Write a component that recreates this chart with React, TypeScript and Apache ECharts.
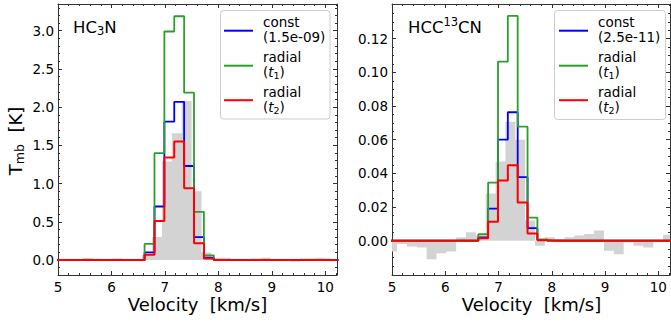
import React, { useEffect, useRef } from 'react';
import * as echarts from 'echarts';

const FONT = '"DejaVu Sans", "Liberation Sans", sans-serif';

// channel edges (km/s): left edge of every channel plus the last right edge
const modelEdges = [4.955, 5.14, 5.325, 5.51, 5.695, 5.88, 6.065, 6.25, 6.435, 6.62, 6.805, 6.99, 7.175, 7.36, 7.545, 7.73, 7.915, 8.1, 8.285, 8.47, 8.655, 8.84, 9.025, 9.21, 9.395, 9.58, 9.765, 9.95, 10.135, 10.32];
const obsEdges = [4.91, 5.095, 5.28, 5.465, 5.65, 5.835, 6.02, 6.205, 6.39, 6.575, 6.76, 6.945, 7.13, 7.315, 7.5, 7.685, 7.87, 8.055, 8.24, 8.425, 8.61, 8.795, 8.98, 9.165, 9.35, 9.535, 9.72, 9.905, 10.09, 10.275];

// HC3N (K)
const hc3nObs = [-0.01, 0.0, 0.01, 0.025, 0.015, -0.01, 0.02, 0.0, -0.01, 0.07, 0.3, 1.29, 1.66, 2.08, 0.9, 0.1, 0.03, 0.025, -0.01, 0.01, 0.02, 0.03, -0.01, 0.0, -0.02, 0.02, 0.025, 0.02, -0.01];
const hc3nConst = [0, 0, 0, 0, 0, 0, 0, 0, 0, 0.1, 0.7, 1.81, 2.07, 1.23, 0.3, 0.03, 0, 0, 0, 0, 0, 0, 0, 0, 0, 0, 0, 0, 0];
const hc3nT1 = [0, 0, 0, 0, 0, 0, 0, 0, 0, 0.21, 1.4, 2.99, 3.19, 2.19, 0.63, 0.06, 0, 0, 0, 0, 0, 0, 0, 0, 0, 0, 0, 0, 0];
const hc3nT2 = [0, 0, 0, 0, 0, 0, 0, 0, 0, 0.07, 0.51, 1.34, 1.55, 0.94, 0.22, 0.02, 0, 0, 0, 0, 0, 0, 0, 0, 0, 0, 0, 0, 0];

// HCC13CN (K)
const hcc13cnObs = [-0.0065, -0.002, -0.0035, -0.004, -0.011, -0.0075, -0.0065, 0.002, 0.005, 0.003, 0.028, 0.047, 0.0707, 0.06, 0.012, -0.003, 0.002, 0.001, 0.002, 0.003, 0.004, 0.006, -0.006, -0.008, -0.001, -0.003, -0.004, 0.0, 0.0035];
const hcc13cnConst = [0, 0, 0, 0, 0, 0, 0, 0, 0, 0.002, 0.019, 0.06, 0.0763, 0.0377, 0.0074, 0.0005, 0, 0, 0, 0, 0, 0, 0, 0, 0, 0, 0, 0, 0];
const hcc13cnT1 = [0, 0, 0, 0, 0, 0, 0, 0, 0, 0.0038, 0.0345, 0.1064, 0.1335, 0.0677, 0.0137, 0.0008, 0, 0, 0, 0, 0, 0, 0, 0, 0, 0, 0, 0, 0];
const hcc13cnT2 = [0, 0, 0, 0, 0, 0, 0, 0, 0, 0.0014, 0.0113, 0.0357, 0.0448, 0.0226, 0.0042, 0.0003, 0, 0, 0, 0, 0, 0, 0, 0, 0, 0, 0, 0, 0];

// ticks
const xTicks = [5, 6, 7, 8, 9, 10];
const hc3nYTicks = [0, 0.5, 1, 1.5, 2, 2.5, 3];
const hcc13cnYTicks = [0, 0.02, 0.04, 0.06, 0.08, 0.1, 0.12];

const X_MIN = 5;
const X_MAX = 10.22;
const HC3N_Y = [-0.196, 3.35];
const HCC13CN_Y = [-0.0204, 0.1406];

const COLORS = { obs: '#d3d3d3', constant: '#0000ff', t1: '#2ca02c', t2: '#ff0000' };
const SPINE = { color: '#333333', width: 1 };

function minorTicks(step: number, sub: number, lo: number, hi: number): number[] {
  const out: number[] = [];
  const m = step / sub;
  const s = Math.ceil(lo / m - 1e-9);
  const e = Math.floor(hi / m + 1e-9);
  for (let i = s; i <= e; i++) {
    if (i % sub === 0) continue;
    const v = +(i * m).toFixed(6);
    if (v > lo && v < hi) out.push(v);
  }
  return out;
}

function steps(edges: number[], values: number[]) {
  const pts = values.map((v, i) => [edges[i], v]);
  pts.push([edges[values.length], values[values.length - 1]]);
  return pts;
}

let measureCtx: CanvasRenderingContext2D | null = null;
function textWidth(t: string, size: number, italic?: boolean) {
  if (!measureCtx) measureCtx = document.createElement('canvas').getContext('2d');
  if (!measureCtx) return t.length * size * 0.6;
  measureCtx.font = `${italic ? 'italic ' : ''}${size}px "DejaVu Sans"`;
  return measureCtx.measureText(t).width;
}

type Part = { t: string; size: number; dy?: number; italic?: boolean };
function composite(parts: Part[], x0: number, yMid: number, center: boolean) {
  const widths = parts.map((p) => textWidth(p.t, p.size, p.italic));
  const total = widths.reduce((a, b) => a + b, 0);
  let x = center ? x0 - total / 2 : x0;
  return parts.map((p, i) => {
    const el = {
      type: 'text',
      x,
      y: yMid + (p.dy || 0),
      silent: true,
      style: {
        text: p.t,
        fontSize: p.size,
        fontFamily: FONT,
        fontStyle: p.italic ? 'italic' : 'normal',
        fill: '#000',
        align: 'left',
        verticalAlign: 'middle',
        textAlign: 'left',
        textVerticalAlign: 'middle',
      },
    };
    x += widths[i];
    return el;
  });
}

function legend(x: number, y: number, w: number, h: number, lineX: number, textX: number, first: string) {
  const fs = 13.5;
  const sub = 9.5;
  const els: any[] = [
    { type: 'rect', shape: { x, y, width: w, height: h, r: 3 }, style: { fill: 'rgba(255,255,255,0.8)', stroke: '#cccccc', lineWidth: 1 }, silent: true },
    { type: 'line', shape: { x1: lineX, y1: 30.7, x2: lineX + 29, y2: 30.7 }, style: { stroke: COLORS.constant, lineWidth: 2 } },
    { type: 'line', shape: { x1: lineX, y1: 65.7, x2: lineX + 29, y2: 65.7 }, style: { stroke: COLORS.t1, lineWidth: 2 } },
    { type: 'line', shape: { x1: lineX, y1: 100.2, x2: lineX + 29, y2: 100.2 }, style: { stroke: COLORS.t2, lineWidth: 2 } },
  ];
  els.push(...composite([{ t: 'const', size: fs }], textX, 21.7, false));
  els.push(...composite([{ t: first, size: fs }], textX, 37.3, false));
  els.push(...composite([{ t: 'radial', size: fs }], textX, 56.7, false));
  els.push(...composite([{ t: '(', size: fs }, { t: 't', size: fs, italic: true }, { t: '1', size: sub, dy: 3.5 }, { t: ')', size: fs }], textX, 71.7, false));
  els.push(...composite([{ t: 'radial', size: fs }], textX, 91.7, false));
  els.push(...composite([{ t: '(', size: fs }, { t: 't', size: fs, italic: true }, { t: '2', size: sub, dy: 3.5 }, { t: ')', size: fs }], textX, 106.7, false));
  return els;
}

function axesFor(gridIndex: number, yRange: number[], yTicks: number[], yStep: number, ySub: number, digits: number) {
  const xMinor = minorTicks(1, 5, X_MIN, X_MAX);
  const yMinor = minorTicks(yStep, ySub, yRange[0], yRange[1]);
  const labelStyle = { fontSize: 13.5, color: '#000', fontFamily: FONT };
  const xb = { type: 'value', gridIndex, min: X_MIN, max: X_MAX, splitLine: { show: false } };
  const yb = { type: 'value', gridIndex, min: yRange[0], max: yRange[1], splitLine: { show: false } };
  const x = [
    { ...xb, position: 'bottom', axisLine: { show: true, onZero: false, lineStyle: SPINE }, axisTick: { show: true, inside: true, length: 4, customValues: xTicks, lineStyle: SPINE }, axisLabel: { show: true, customValues: xTicks, margin: 5, ...labelStyle, formatter: (v: number) => String(v) } },
    { ...xb, position: 'bottom', axisLine: { show: false, onZero: false }, axisTick: { show: true, inside: true, length: 2, customValues: xMinor, lineStyle: SPINE }, axisLabel: { show: false } },
    { ...xb, position: 'top', axisLine: { show: true, onZero: false, lineStyle: SPINE }, axisTick: { show: true, inside: true, length: 4, customValues: xTicks, lineStyle: SPINE }, axisLabel: { show: false } },
    { ...xb, position: 'top', axisLine: { show: false, onZero: false }, axisTick: { show: true, inside: true, length: 2, customValues: xMinor, lineStyle: SPINE }, axisLabel: { show: false } },
  ];
  const y = [
    { ...yb, position: 'left', axisLine: { show: true, onZero: false, lineStyle: SPINE }, axisTick: { show: true, inside: true, length: 4, customValues: yTicks, lineStyle: SPINE }, axisLabel: { show: true, customValues: yTicks, margin: 4, ...labelStyle, formatter: (v: number) => v.toFixed(digits) } },
    { ...yb, position: 'left', axisLine: { show: false, onZero: false }, axisTick: { show: true, inside: true, length: 2, customValues: yMinor, lineStyle: SPINE }, axisLabel: { show: false } },
    { ...yb, position: 'right', axisLine: { show: true, onZero: false, lineStyle: SPINE }, axisTick: { show: true, inside: true, length: 4, customValues: yTicks, lineStyle: SPINE }, axisLabel: { show: false } },
    { ...yb, position: 'right', axisLine: { show: false, onZero: false }, axisTick: { show: true, inside: true, length: 2, customValues: yMinor, lineStyle: SPINE }, axisLabel: { show: false } },
  ];
  return { x, y };
}

function seriesFor(axisIndex: number, obs: number[], c: number[], t1: number[], t2: number[]) {
  const common = { type: 'line', xAxisIndex: axisIndex, yAxisIndex: axisIndex, step: 'end', showSymbol: false, symbol: 'none', silent: true };
  return [
    { ...common, name: 'obs', data: steps(obsEdges, obs), lineStyle: { width: 0, opacity: 0 }, areaStyle: { color: COLORS.obs, opacity: 1 } },
    { ...common, name: 'const', data: steps(modelEdges, c), lineStyle: { color: COLORS.constant, width: 1.8 } },
    { ...common, name: 't1', data: steps(modelEdges, t1), lineStyle: { color: COLORS.t1, width: 1.8 } },
    { ...common, name: 't2', data: steps(modelEdges, t2), lineStyle: { color: COLORS.t2, width: 2 } },
  ];
}

export default function App() {
  const ref = useRef<HTMLDivElement>(null);
  useEffect(() => {
    if (!ref.current) return;
    const chart = echarts.init(ref.current, undefined, { renderer: 'svg' });
    const a0 = axesFor(0, HC3N_Y, hc3nYTicks, 0.5, 5, 1);
    const a1 = axesFor(1, HCC13CN_Y, hcc13cnYTicks, 0.02, 4, 2);
    const labelFs = 18;
    const graphic: any[] = [
      ...composite([{ t: 'HC', size: 16.5 }, { t: '3', size: 11.5, dy: 4 }, { t: 'N', size: 16.5 }], 73, 27, false),
      ...composite([{ t: 'HCC', size: 16.5 }, { t: '13', size: 11.5, dy: -5.5 }, { t: 'CN', size: 16.5 }], 408, 27, false),
      ...composite([{ t: 'Velocity  [km/s]', size: labelFs }], 197.5, 304, true),
      ...composite([{ t: 'Velocity  [km/s]', size: labelFs }], 531.5, 304, true),
      {
        type: 'group',
        x: 15,
        y: 141,
        rotation: Math.PI / 2,
        children: composite([{ t: 'T', size: labelFs }, { t: 'mb', size: 12.6, dy: 4.5 }, { t: '  [K]', size: labelFs }], 0, 0, true),
      },
      ...legend(220.5, 10.5, 109.5, 108.5, 224, 263, '(1.5e-09)'),
      ...legend(554.5, 10.5, 111, 109, 559, 598, '(2.5e-11)'),
    ];
    chart.setOption({
      animation: false,
      backgroundColor: '#ffffff',
      grid: [
        { left: 58, top: 4, width: 279, height: 271, containLabel: false },
        { left: 392, top: 4, width: 278, height: 271, containLabel: false },
      ],
      xAxis: [...a0.x, ...a1.x],
      yAxis: [...a0.y, ...a1.y],
      series: [
        ...seriesFor(0, hc3nObs, hc3nConst, hc3nT1, hc3nT2),
        ...seriesFor(4, hcc13cnObs, hcc13cnConst, hcc13cnT1, hcc13cnT2),
      ],
      graphic,
    });
    return () => chart.dispose();
  }, []);
  return <div ref={ref} style={{ position: 'fixed', left: 0, top: 0, width: 671, height: 324, background: '#fff' }} />;
}
